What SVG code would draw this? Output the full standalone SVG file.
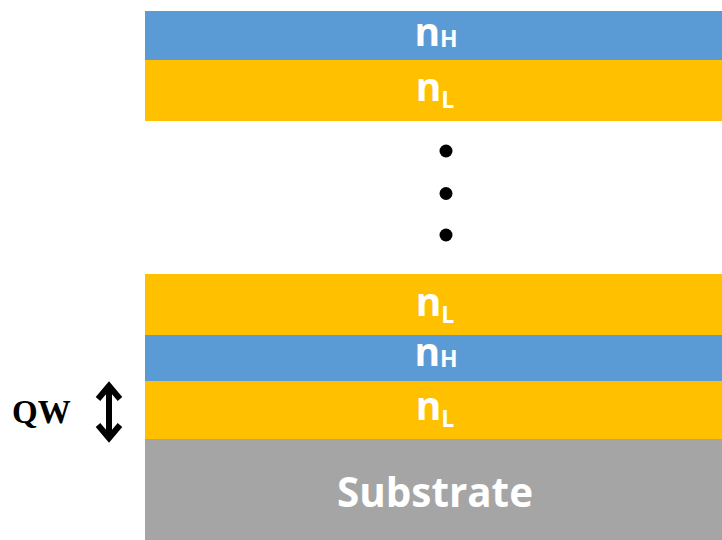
<svg xmlns="http://www.w3.org/2000/svg" width="722" height="540" viewBox="0 0 722 540">
<style>
.hi{fill:#5B9BD5}
.lo{fill:#FFC000}
.sub{fill:#A5A5A5}
.lbl{font-family:"Open Sans","Liberation Sans",sans-serif;font-weight:bold;fill:#fff;font-size:39px}
.s{font-size:23px}
.qw{font-family:"Liberation Serif",serif;font-weight:bold;font-size:33px;fill:#000}
.arr{fill:none;stroke:#000;stroke-width:6}
</style>
<rect width="722" height="540" fill="#fff"/>
<g id="layer-top-nH"><rect class="hi" x="145" y="11" width="577" height="49"/><text class="lbl" x="436" y="46" text-anchor="middle">n<tspan class="s" dy="1">H</tspan></text></g>
<g id="layer-top-nL"><rect class="lo" x="145" y="60" width="577" height="61"/><text class="lbl" x="435" y="101" text-anchor="middle">n<tspan class="s" dy="7">L</tspan></text></g>
<g id="dots"><circle cx="446" cy="151" r="6.5"/><circle cx="446" cy="193.5" r="6.5"/><circle cx="446" cy="235" r="6.5"/></g>
<g id="layer-nL-2"><rect class="lo" x="145" y="274" width="577" height="61"/><text class="lbl" x="435" y="316" text-anchor="middle">n<tspan class="s" dy="7">L</tspan></text></g>
<g id="layer-nH-2"><rect class="hi" x="145" y="335" width="577" height="46"/><text class="lbl" x="436" y="366" text-anchor="middle">n<tspan class="s" dy="1">H</tspan></text></g>
<g id="layer-nL-QW"><rect class="lo" x="145" y="381" width="577" height="58"/><text class="lbl" x="435" y="420" text-anchor="middle">n<tspan class="s" dy="7">L</tspan></text></g>
<g id="substrate"><rect class="sub" x="145" y="439" width="577" height="101"/><text class="lbl" x="435" y="507" text-anchor="middle" style="font-size:42px" textLength="196" lengthAdjust="spacingAndGlyphs">Substrate</text></g>
<g id="qw-label"><text class="qw" x="12" y="423">QW</text>
<path class="arr" d="M109 387 V437 M98 399 L109 386 L120 399 M98 425 L109 438 L120 425"/></g>
</svg>
